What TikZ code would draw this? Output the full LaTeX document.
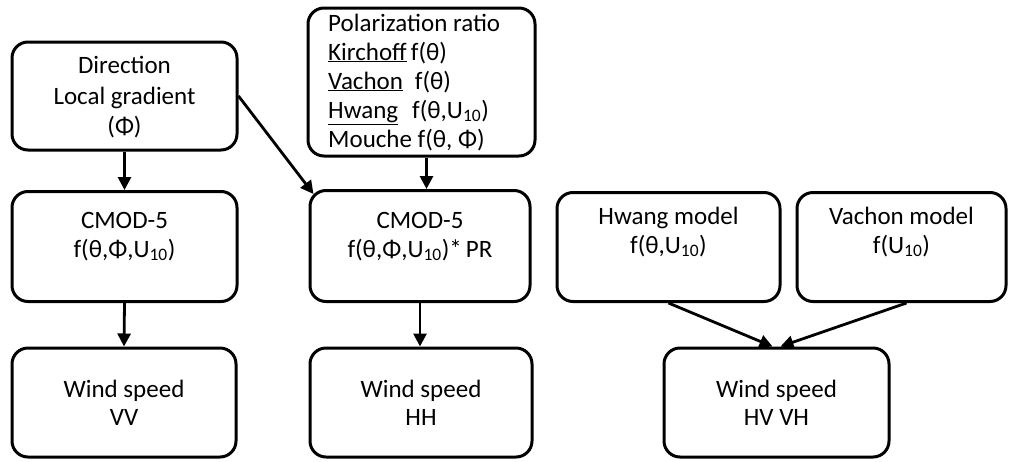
\documentclass[tikz,border=0pt]{standalone}
\usepackage{fontspec}
\setmainfont{Carlito}
\usetikzlibrary{arrows.meta}
\begin{document}
\begin{tikzpicture}[x=1pt,y=-1pt,
  box/.style={draw, line width=3pt, rounded corners=16pt, inner sep=0pt},
  arr/.style={line width=2.8pt, -{Triangle[length=13pt,width=13pt]}},
  t/.style={anchor=base, inner sep=0pt, font=\fontsize{25}{29}\selectfont},
  tl/.style={t, anchor=base west}]
\useasboundingbox (0,0) rectangle (1009,461);
% boxes
\node[box, minimum width=225pt, minimum height=108pt] (dir) at (124.5,96) {};
\node[box, minimum width=227pt, minimum height=148pt] (pol) at (421.5,82) {};
\node[box, minimum width=225pt, minimum height=110pt] (cm1) at (124.5,246.5) {};
\node[box, minimum width=220pt, minimum height=111pt] (cm2) at (420,246) {};
\node[box, minimum width=223pt, minimum height=109pt] (hw) at (668.5,247) {};
\node[box, minimum width=209pt, minimum height=109pt] (va) at (901.5,247) {};
\node[box, minimum width=224pt, minimum height=109pt] (vv) at (124,402.5) {};
\node[box, minimum width=222pt, minimum height=109pt] (hh) at (421,402.5) {};
\node[box, minimum width=225pt, minimum height=109pt] (hvvh) at (776.5,402.5) {};
% texts
\node[t] (dir1) at (124.5,73) {Direction};
\node[t] (dir2) at (124.5,104) {Local gradient};
\node[t] (dir3) at (124.5,134) {(Φ)};
\node[tl] (pol1) at (328,31) {Polarization ratio};
\node[tl] (pol2) at (328,60) {\underline{Kirchoff}\,f(θ)};
\node[tl] (pol3) at (328,89) {\underline{Vachon}\hspace{12pt}f(θ)};
\node[tl] (pol4) at (328,118) {\underline{Hwang}\hspace{14pt}f(θ,U\textsubscript{10})};
\node[tl] (pol5) at (328,147) {Mouche f(θ, Φ)};
\node[t] (cm1a) at (124.5,228) {CMOD-5};
\node[t] (cm1b) at (124.5,257) {f(θ,Φ,U\textsubscript{10})};
\node[t] (cm2a) at (420,228) {CMOD-5};
\node[t] (cm2b) at (420,257) {f(θ,Φ,U\textsubscript{10})*\,PR};
\node[t] (hwa) at (668.5,224) {Hwang model};
\node[t] (hwb) at (668.5,253) {f(θ,U\textsubscript{10})};
\node[t] (vaa) at (901.5,224) {Vachon model};
\node[t] (vab) at (901.5,253) {f(U\textsubscript{10})};
\node[t] (vva) at (124,397) {Wind speed};
\node[t] (vvb) at (124,425) {VV};
\node[t] (hha) at (421,397) {Wind speed};
\node[t] (hhb) at (421,425) {HH};
\node[t] (hva) at (776.5,397) {Wind speed};
\node[t] (hvb) at (776.5,425) {HV VH};
% arrows
\draw[arr] (dir.south) -- (cm1.north);
\draw[arr] (dir.east) -- ([xshift=5pt,yshift=-5pt]cm2.north west);
\draw[arr] ([xshift=5pt]pol.south) -- ([xshift=5pt]pol.south |- cm2.north);
\draw[arr] (cm1.south) -- (vv.north);
\draw[arr] (cm2.south) -- (cm2.south |- hh.north);
\draw[arr] (hw.south) -- ([xshift=-4pt]hvvh.north);
\draw[arr] ([xshift=5pt]va.south) -- ([xshift=4pt]hvvh.north);
\end{tikzpicture}
\end{document}
